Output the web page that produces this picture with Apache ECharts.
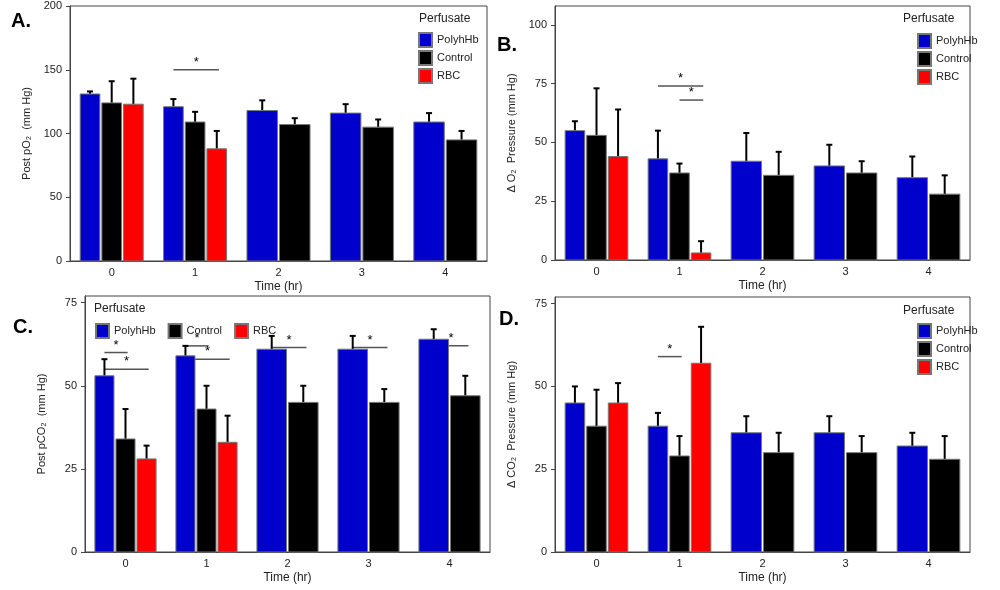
<!DOCTYPE html>
<html><head><meta charset="utf-8">
<script src="https://cdn.jsdelivr.net/npm/echarts@6/dist/echarts.min.js"></script>
<style>html,body{margin:0;background:#fff}#chart{width:1000px;height:590px}</style>
</head><body><div id="chart"></div>
<script>
var times = ['0', '1', '2', '3', '4'];
var names = ['PolyhHb', 'Control', 'RBC'];
var colors = ['#0000cc', '#000000', '#ff0000'];
// panel A: post pO2
var aMean = [[131, 121, 118, 116, 109], [124, 109, 107, 105, 95], [123, 88, null, null, null]];
var aErr  = [[133, 127, 126, 123, 116], [141, 117, 112, 111, 102], [143, 102, null, null, null]];
var aSig  = [[1, 0, 2, 150]];
// panel B: delta O2
var bMean = [[55, 43, 42, 40, 35], [53, 37, 36, 37, 28], [44, 3, null, null, null]];
var bErr  = [[59, 55, 54, 49, 44], [73, 41, 46, 42, 36], [64, 8, null, null, null]];
var bSig  = [[1, 0, 2, 74], [1, 1, 2, 68]];
// panel C: post pCO2
var cMean = [[53, 59, 61, 61, 64], [34, 43, 45, 45, 47], [28, 33, null, null, null]];
var cErr  = [[58, 62, 65, 65, 67], [43, 50, 50, 49, 53], [32, 41, null, null, null]];
var cSig  = [[0, 0, 1, 60], [0, 0, 2, 55], [1, 0, 1, 62], [1, 0, 2, 58], [2, 0, 1, 61.5], [3, 0, 1, 61.5], [4, 0, 1, 62]];
// panel D: delta CO2
var dMean = [[45, 38, 36, 36, 32], [38, 29, 30, 30, 28], [45, 57, null, null, null]];
var dErr  = [[50, 42, 41, 41, 36], [49, 35, 36, 35, 35], [51, 68, null, null, null]];
var dSig  = [[1, 0, 1, 59]];

var panels = [
  {mean: aMean, err: aErr, sig: aSig, max: 200, interval: 50, name: 'Post pO₂  (mm Hg)',
   grid: {left: 70, top: 6, width: 417, height: 255}},
  {mean: bMean, err: bErr, sig: bSig, max: 108, interval: 25, name: 'Δ O₂  Pressure (mm Hg)',
   grid: {left: 555, top: 6, width: 415, height: 254}},
  {mean: cMean, err: cErr, sig: cSig, max: 77, interval: 25, name: 'Post pCO₂  (mm Hg)',
   grid: {left: 85, top: 296, width: 405, height: 256}},
  {mean: dMean, err: dErr, sig: dSig, max: 77, interval: 25, name: 'Δ CO₂  Pressure (mm Hg)',
   grid: {left: 555, top: 297, width: 415, height: 255}}
];

function groupOf(p, c) {
  var list = [];
  for (var s = 0; s < 3; s++) if (p.mean[s][c] != null) list.push(s);
  return list;
}
function barPos(api, c, k, n) {
  var center = api.coord([c, 0])[0];
  var gw = api.size([1, 0])[0] * 0.78;
  var w = gw / n;
  return {x: center - gw / 2 + k * w, w: w};
}

var grids = [], xAxes = [], yAxes = [], series = [];
panels.forEach(function (p, i) {
  grids.push(Object.assign({show: true, borderColor: '#444', borderWidth: 1}, p.grid));
  xAxes.push({type: 'category', gridIndex: i, data: times, name: 'Time (hr)', nameLocation: 'middle', nameGap: 20,
    nameTextStyle: {fontSize: 12, color: '#222'},
    axisLine: {lineStyle: {color: '#444'}}, axisTick: {alignWithLabel: true, length: 4, lineStyle: {color: '#444'}},
    axisLabel: {fontSize: 11, color: '#222', margin: 6}});
  yAxes.push({type: 'value', gridIndex: i, min: 0, max: p.max, interval: p.interval, name: p.name,
    nameLocation: 'middle', nameGap: 38, nameTextStyle: {fontSize: 11, color: '#222'},
    splitLine: {show: false}, axisLine: {show: true, lineStyle: {color: '#444'}},
    axisTick: {show: true, length: 4, lineStyle: {color: '#444'}},
    axisLabel: {fontSize: 11, color: '#222', showMaxLabel: p.max % p.interval === 0}});
  // significance lines first, so bars sit on top of them
  var sdata = p.sig.map(function (q) { return [q[0], q[3], q[1], q[2]]; });
  series.push({type: 'custom', xAxisIndex: i, yAxisIndex: i, data: sdata, silent: true,
    renderItem: function (params, api) {
      var c = api.value(0), y = api.value(1), f = api.value(2), t = api.value(3);
      var n = groupOf(p, c).length;
      var b1 = barPos(api, c, f, n), b2 = barPos(api, c, t, n);
      var x1 = b1.x + b1.w * 0.5, x2 = b2.x + b2.w * 0.6;
      var py = api.coord([c, y])[1];
      return {type: 'group', children: [
        {type: 'line', shape: {x1: x1, y1: py, x2: x2, y2: py}, style: {stroke: '#555', lineWidth: 1.5}},
        {type: 'text', style: {text: '*', x: (x1 + x2) / 2, y: py - 1, textAlign: 'center', textVerticalAlign: 'bottom',
          fill: '#000', font: '13px Liberation Sans'}}
      ]};
    }});
  var data = [];
  for (var c = 0; c < times.length; c++) {
    var g = groupOf(p, c);
    g.forEach(function (s, k) { data.push([c, p.mean[s][c], p.err[s][c], k, g.length, s]); });
  }
  series.push({type: 'custom', xAxisIndex: i, yAxisIndex: i, data: data, silent: true,
    renderItem: function (params, api) {
      var c = api.value(0), v = api.value(1), e = api.value(2), k = api.value(3), n = api.value(4), s = api.value(5);
      var b = barPos(api, c, k, n);
      var top = api.coord([c, v])[1], base = api.coord([c, 0])[1], et = api.coord([c, e])[1];
      var cx = b.x + b.w / 2;
      return {type: 'group', children: [
        {type: 'line', shape: {x1: cx, y1: top, x2: cx, y2: et}, style: {stroke: '#000', lineWidth: 2}},
        {type: 'line', shape: {x1: cx - 3, y1: et, x2: cx + 3, y2: et}, style: {stroke: '#000', lineWidth: 2}},
        {type: 'rect', shape: {x: b.x + 1, y: top, width: b.w - 2, height: base - top},
          style: {fill: colors[s], stroke: '#777', lineWidth: 1}}
      ]};
    }});
});
names.forEach(function (nm, s) {
  series.push({type: 'bar', name: nm, data: [], xAxisIndex: 0, yAxisIndex: 0,
    itemStyle: {color: colors[s], borderColor: '#777', borderWidth: 1}});
});

var legBase = {data: names, icon: 'rect', itemWidth: 13, itemHeight: 14, textStyle: {fontSize: 11, color: '#222'}};
var legends = [
  Object.assign({left: 413, top: 27, orient: 'vertical', itemGap: 2}, legBase),
  Object.assign({left: 912, top: 28, orient: 'vertical', itemGap: 2}, legBase),
  Object.assign({left: 90, top: 318, orient: 'horizontal', itemGap: 12}, legBase),
  Object.assign({left: 912, top: 318, orient: 'vertical', itemGap: 2}, legBase)
];
var tStyle = {fontSize: 12, color: '#222', fontWeight: 'normal'};
var lStyle = {fontSize: 20, color: '#000', fontWeight: 'bold'};
var titles = [
  {text: 'A.', left: 6, top: 6, textStyle: lStyle},
  {text: 'B.', left: 492, top: 30, textStyle: lStyle},
  {text: 'C.', left: 8, top: 312, textStyle: lStyle},
  {text: 'D.', left: 494, top: 304, textStyle: lStyle},
  {text: 'Perfusate', left: 414, top: 8, textStyle: tStyle},
  {text: 'Perfusate', left: 898, top: 8, textStyle: tStyle},
  {text: 'Perfusate', left: 89, top: 298, textStyle: tStyle},
  {text: 'Perfusate', left: 898, top: 300, textStyle: tStyle}
];

var myChart = echarts.init(document.getElementById('chart'));
myChart.setOption({
  animation: false,
  textStyle: {fontFamily: 'Liberation Sans, Arial, sans-serif'},
  title: titles, legend: legends, grid: grids, xAxis: xAxes, yAxis: yAxes, series: series
});
</script></body></html>
